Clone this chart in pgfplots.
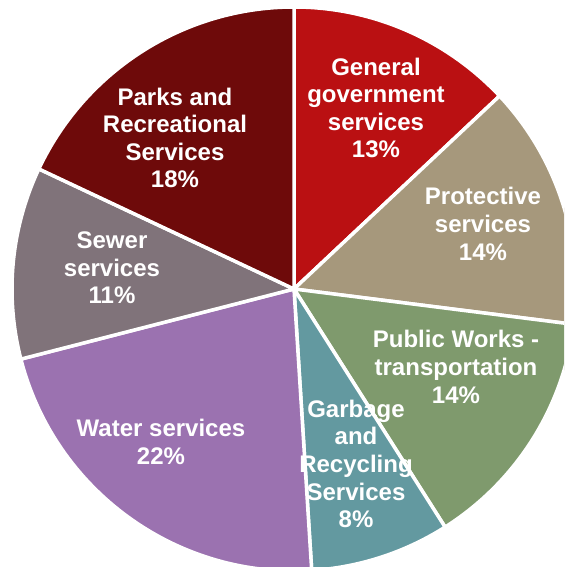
\documentclass[border=0pt]{standalone}
\usepackage{pgfplots}
\pgfplotsset{compat=1.18}
\usepackage{fontspec}
\setmainfont{Liberation Sans}
\definecolor{cGen}{RGB}{186,16,18}
\definecolor{cPro}{RGB}{166,152,124}
\definecolor{cPub}{RGB}{127,154,109}
\definecolor{cGar}{RGB}{99,153,160}
\definecolor{cWat}{RGB}{155,114,176}
\definecolor{cSew}{RGB}{128,115,122}
\definecolor{cPar}{RGB}{110,10,10}
\tikzset{lbl/.style={text=white, align=center, inner sep=0pt, font=\bfseries\fontsize{12}{13.8}\selectfont}}
\def\cum{0}
\newcommand\pieslice[2]{%
  \pgfmathsetmacro\sa{90-3.6*\cum}%
  \pgfmathsetmacro\sb{90-3.6*(\cum+#1)}%
  \edef\temp{\noexpand\fill[#2, draw=white, line width=1.75pt, line join=round] (axis cs:0,0) -- ++(\sa:141pt) arc[start angle=\sa, end angle=\sb, radius=141pt] -- cycle;}%
  \temp
  \pgfmathparse{\cum+#1}\xdef\cum{\pgfmathresult}%
}
\begin{document}
\begin{tikzpicture}
\begin{axis}[name=pie, hide axis, scale only axis, x=0.5pt, y=0.5pt,
  xmin=-294, xmax=270, ymin=-278, ymax=289, clip=true]
\pieslice{13}{cGen}
\pieslice{14}{cPro}
\pieslice{14}{cPub}
\pieslice{8}{cGar}
\pieslice{22}{cWat}
\pieslice{11}{cSew}
\pieslice{18}{cPar}
\node[lbl] at (axis cs:82,181) {General\\government\\services\\13\%};
\node[lbl] at (axis cs:189,65) {Protective\\services\\14\%};
\node[lbl] at (axis cs:162,-78) {Public Works -\\transportation\\14\%};
\node[lbl] at (axis cs:62,-175) {Garbage\\and\\Recycling\\Services\\8\%};
\node[lbl] at (axis cs:-133,-153) {Water services\\22\%};
\node[lbl] at (axis cs:-182,21) {Sewer\\services\\11\%};
\node[lbl] at (axis cs:-119,151) {Parks and\\Recreational\\Services\\18\%};
\end{axis}
\pgfresetboundingbox
\useasboundingbox (pie.south west) rectangle (pie.north east);
\end{tikzpicture}
\end{document}
